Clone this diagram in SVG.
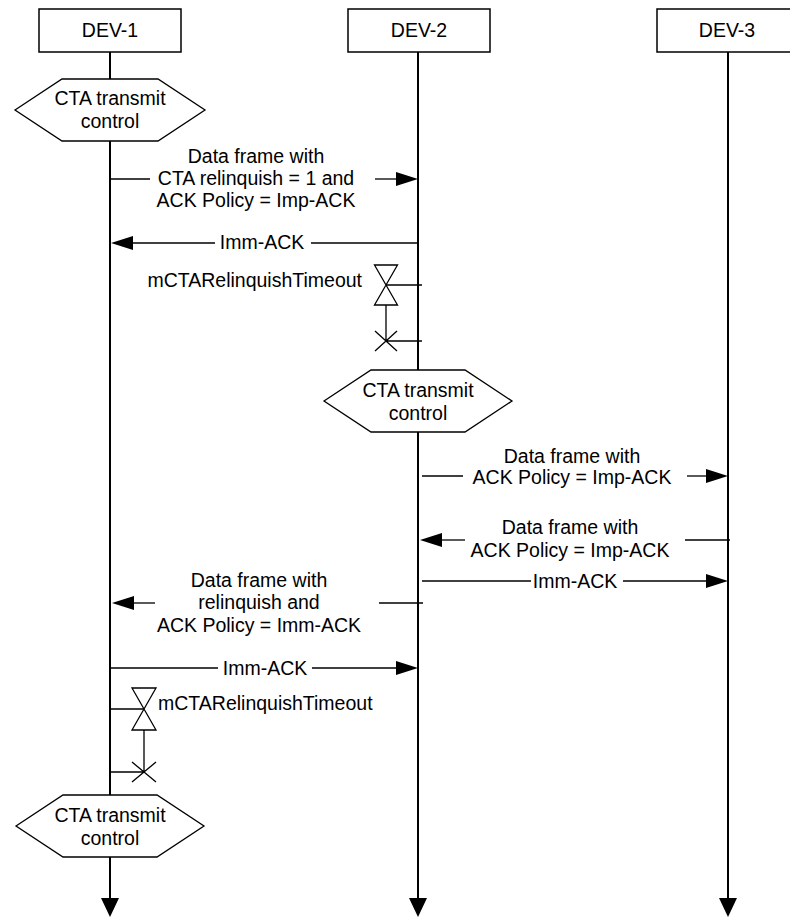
<svg xmlns="http://www.w3.org/2000/svg" width="790" height="918" viewBox="0 0 790 918">
<defs>
<style>
 text { font-family: "Liberation Sans", Arial, sans-serif; font-size: 19.5px; fill: #000; }
 .c { text-anchor: middle; }
 .e { text-anchor: end; }
 .box { fill: #fff; stroke: #000; stroke-width: 1.5; }
 .hex { fill: #fff; stroke: #000; stroke-width: 1.3; }
 .life { stroke: #000; stroke-width: 2; fill: none; }
 .msg { stroke: #000; stroke-width: 1.3; fill: none; }
 .tm { stroke: #000; stroke-width: 1.3; fill: none; }
 .arr { marker-end: url(#ah); }
 .larr { marker-end: url(#lh); }
</style>
<marker id="ah" markerUnits="userSpaceOnUse" markerWidth="24" markerHeight="16" refX="0" refY="7" orient="auto" overflow="visible"><path d="M0,0 L22,7 L0,14 z" fill="#000"/></marker>
<marker id="lh" markerUnits="userSpaceOnUse" markerWidth="22" markerHeight="20" refX="0" refY="9" orient="auto" overflow="visible"><path d="M0,0 L19,9 L0,18 z" fill="#000"/></marker>
</defs>
<rect width="790" height="918" fill="#fff"/>

<g id="lifelines">
 <path class="life larr" d="M110,52 V898"/>
 <path class="life larr" d="M418,52 V898"/>
 <path class="life larr" d="M728,52 V898"/>
</g>

<g id="dev1"><rect class="box" x="39" y="9" width="142" height="43"/><text class="c" x="110" y="37">DEV-1</text></g>
<g id="dev2"><rect class="box" x="348" y="9" width="142" height="43"/><text class="c" x="419" y="37">DEV-2</text></g>
<g id="dev3"><rect class="box" x="657" y="9" width="142" height="43"/><text class="c" x="727" y="37">DEV-3</text></g>

<g id="cta1"><polygon class="hex" points="15,110 62,79 158,79 205,110 158,141 62,141"/><text class="c" x="110" y="105">CTA transmit</text><text class="c" x="110" y="128">control</text></g>
<g id="cta2"><polygon class="hex" points="324,401 371,370 465,370 512,401 465,432 371,432"/><text class="c" x="418" y="397">CTA transmit</text><text class="c" x="418" y="420">control</text></g>
<g id="cta3"><polygon class="hex" points="16,826 63,795 157,795 204,826 157,857 63,857"/><text class="c" x="110" y="822">CTA transmit</text><text class="c" x="110" y="845">control</text></g>

<g id="timer1">
 <path class="tm" d="M374.5,265 H397.5 L374.5,305 H397.5 Z"/>
 <path class="tm" d="M386,285 H422 M386,305 V341 M375,331 L397,351 M397,331 L375,351 M386,341 H422"/>
 <text class="e" x="362" y="287">mCTARelinquishTimeout</text>
</g>
<g id="timer2">
 <path class="tm" d="M132,688 H156 L132,730 H156 Z"/>
 <path class="tm" d="M110,709 H144 M144,730 V772 M132,762 L156,782 M156,762 L132,782 M110,772 H144"/>
 <text x="158" y="710">mCTARelinquishTimeout</text>
</g>

<g id="connectors">
 <g id="m1"><path class="msg" d="M110,179 H150"/><path class="msg arr" d="M375,179 H396"/>
  <text class="c" x="256" y="163">Data frame with</text><text class="c" x="256" y="185">CTA relinquish = 1 and</text><text class="c" x="256" y="207">ACK Policy = Imp-ACK</text></g>
 <g id="m2"><path class="msg arr" d="M215,243 H133"/><path class="msg" d="M311,243 H418"/>
  <text class="c" x="262" y="249">Imm-ACK</text></g>
 <g id="m3"><path class="msg" d="M422,476 H463"/><path class="msg arr" d="M687,476 H706"/>
  <text class="c" x="572" y="463">Data frame with</text><text class="c" x="572" y="484">ACK Policy = Imp-ACK</text></g>
 <g id="m4"><path class="msg arr" d="M465,540 H442"/><path class="msg" d="M685,540 H730"/>
  <text class="c" x="570" y="534">Data frame with</text><text class="c" x="570" y="557">ACK Policy = Imp-ACK</text></g>
 <g id="m5"><path class="msg" d="M422,581 H531"/><path class="msg arr" d="M623,581 H706"/>
  <text class="c" x="575" y="588">Imm-ACK</text></g>
 <g id="m6"><path class="msg arr" d="M155,603 H134"/><path class="msg" d="M379,603 H423"/>
  <text class="c" x="259" y="587">Data frame with</text><text class="c" x="259" y="609">relinquish and</text><text class="c" x="259" y="632">ACK Policy = Imm-ACK</text></g>
 <g id="m7"><path class="msg" d="M110,668 H218"/><path class="msg arr" d="M312,668 H396"/>
  <text class="c" x="265" y="675">Imm-ACK</text></g>
</g>
</svg>
